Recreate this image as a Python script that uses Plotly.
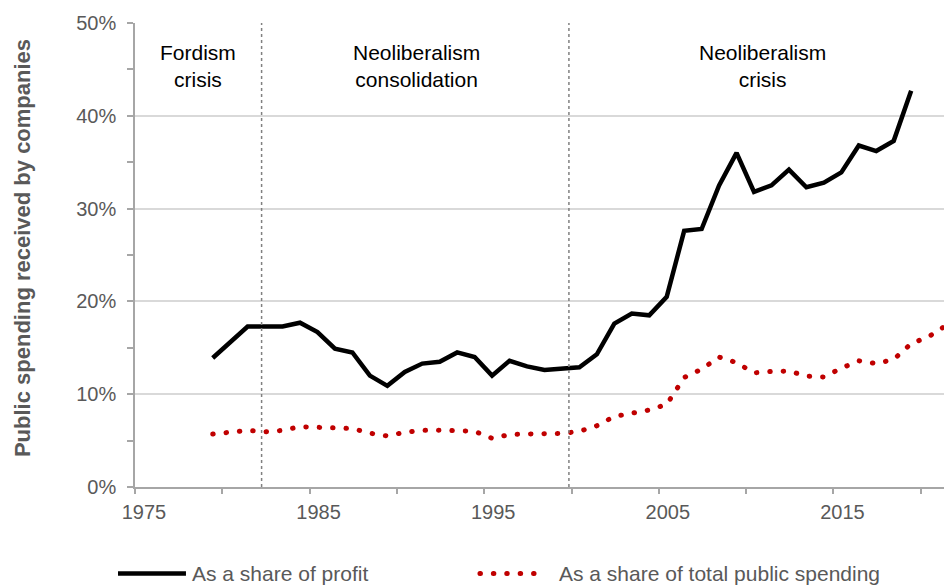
import plotly.graph_objects as go

# data (share of profit / share of total public spending, in %)
years_profit = list(range(1979, 2020))
share_profit = [13.9, 15.6, 17.3, 17.3, 17.3, 17.7, 16.7, 14.9, 14.5, 12.0,
                10.9, 12.4, 13.3, 13.5, 14.5, 14.0, 12.0, 13.6, 13.0, 12.6,
                12.8, 12.9, 14.3, 17.6, 18.7, 18.5, 20.5, 27.6, 27.8, 32.5,
                36.0, 31.8, 32.5, 34.2, 32.3, 32.8, 33.9, 36.8, 36.2, 37.3,
                42.7]

years_spending = list(range(1979, 2022))
share_spending = [5.7, 5.95, 6.1, 5.95, 6.1, 6.5, 6.4, 6.33, 6.3, 5.8,
                  5.5, 5.9, 6.1, 6.12, 6.12, 6.0, 5.25, 5.65, 5.72, 5.78,
                  5.76, 6.0, 6.6, 7.6, 7.98, 8.3, 8.9, 11.8, 12.7, 14.0,
                  13.4, 12.3, 12.45, 12.5, 11.95, 11.85, 12.8, 13.6, 13.3, 13.75,
                  15.45, 16.2, 17.4]

tick_years = [1975, 1985, 1995, 2005, 2015]
minor_years = [1980, 1990, 2000, 2010, 2020]
periods = ['Fordism<br>crisis', 'Neoliberalism<br>consolidation', 'Neoliberalism<br>crisis']
period_centers = [1978.15, 1990.67, 2010.5]
period_breaks = [1981.8, 1999.4]

# values are plotted mid-year, ticks sit on the start of the year
OFFSET = 0.45
FONT = 'Arial, Liberation Sans, sans-serif'
GREY = '#595959'
RED = '#c00000'

fig = go.Figure()
fig.add_trace(go.Scatter(x=years_profit, y=share_profit, mode='lines',
                         line=dict(color='black', width=4.5),
                         name='As a share of profit', showlegend=False))
fig.add_trace(go.Scatter(x=years_spending, y=share_spending, mode='lines',
                         line=dict(color=RED, width=5, dash='0.5px,12.9px'),
                         name='As a share of total public spending', showlegend=False))

for b in period_breaks:
    fig.add_shape(type='line', x0=b, x1=b, y0=0, y1=50, xref='x', yref='y',
                  line=dict(color='#808080', width=1.5, dash='dot'))

for txt, xc in zip(periods, period_centers):
    fig.add_annotation(x=xc, y=45.4, text=txt, showarrow=False,
                       font=dict(family=FONT, size=21, color='black'))

fig.add_annotation(x=-0.157, y=0.516, xref='paper', yref='paper', textangle=-90,
                   text='<b>Public spending received by companies</b>', showarrow=False,
                   font=dict(family=FONT, size=22, color=GREY))

# legend drawn by hand, below the plot
LEG_Y = -0.1862
fig.add_shape(type='line', xref='paper', yref='paper', x0=-0.021, x1=0.063, y0=LEG_Y, y1=LEG_Y,
              line=dict(color='black', width=4.5))
fig.add_shape(type='line', xref='paper', yref='paper', x0=0.4264, x1=0.508, y0=LEG_Y, y1=LEG_Y,
              line=dict(color=RED, width=5, dash='0.5px,12.9px'))
fig.add_annotation(x=0.0685, y=LEG_Y, xref='paper', yref='paper', xanchor='left', yanchor='middle',
                   text='As a share of profit', showarrow=False,
                   font=dict(family=FONT, size=21, color=GREY))
fig.add_annotation(x=0.5216, y=LEG_Y, xref='paper', yref='paper', xanchor='left', yanchor='middle',
                   text='As a share of total public spending', showarrow=False,
                   font=dict(family=FONT, size=21, color=GREY))

fig.update_xaxes(range=[1974.55, 2020.88], showgrid=False, zeroline=False,
                 showline=True, linecolor='#a6a6a6', linewidth=1.5,
                 tickvals=[y - OFFSET for y in tick_years], ticktext=[str(y) for y in tick_years],
                 ticks='outside', ticklen=5, tickcolor='#a6a6a6', tickwidth=1.5,
                 ticklabelshift=9, ticklabelstandoff=1,
                 minor=dict(tickvals=[y - OFFSET for y in minor_years], ticks='outside',
                            ticklen=5, tickcolor='#a6a6a6', tickwidth=1.5, showgrid=False),
                 tickfont=dict(family=FONT, size=20, color=GREY))
fig.update_yaxes(range=[0, 50], zeroline=False, showline=True, linecolor='#a6a6a6', linewidth=1.5,
                 tickvals=[0, 10, 20, 30, 40, 50], ticktext=['0%', '10%', '20%', '30%', '40%', '50%'],
                 ticks='outside', ticklen=6, tickcolor='#a6a6a6', tickwidth=1.5,
                 ticklabelstandoff=7,
                 gridcolor='#d9d9d9', gridwidth=1.5,
                 minor=dict(tickvals=[5, 15, 25, 35, 45], ticks='outside', ticklen=6,
                            tickcolor='#a6a6a6', tickwidth=1.5, showgrid=False),
                 tickfont=dict(family=FONT, size=20, color=GREY))

fig.update_layout(width=944, height=585, margin=dict(l=135, r=0, t=23, b=98),
                  plot_bgcolor='white', paper_bgcolor='white', showlegend=False)

# no page margin, and round dots for the dotted red line
post = """
document.body.style.margin = '0';
document.body.style.overflow = 'hidden';
document.querySelectorAll('path').forEach(function(p){
  if ((p.style.stroke || '').indexOf('192, 0, 0') >= 0) { p.style.strokeLinecap = 'round'; }
});
"""
fig.write_html("out.html", post_script=post, config={'displayModeBar': False})
